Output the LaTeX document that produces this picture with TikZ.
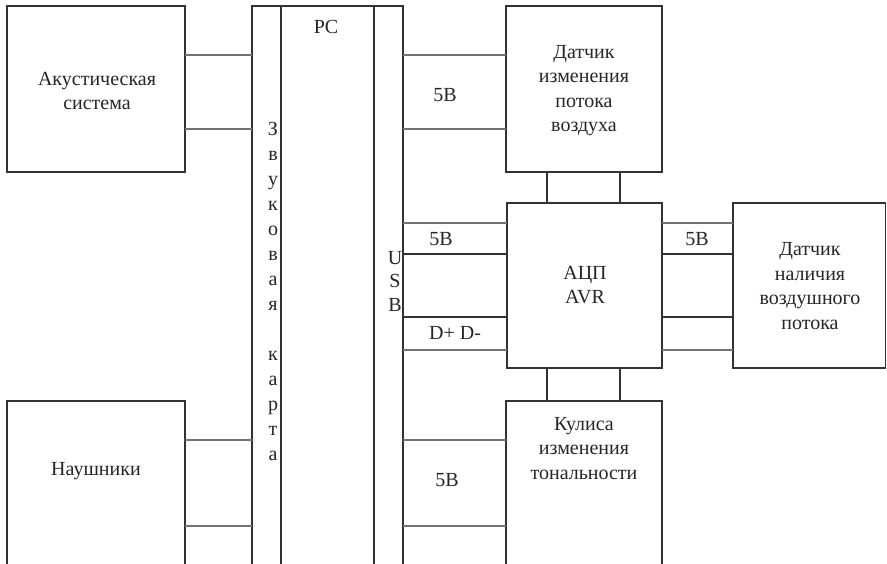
\documentclass[tikz,border=0pt]{standalone}
\usepackage{fontspec}
\setmainfont{Liberation Serif}
\tikzset{
  box/.style={draw=black!80, line width=1.3pt, inner sep=0pt, outer sep=0pt, rectangle},
  wire/.style={draw=black!55, line width=2.2pt},
  thin wire/.style={draw=black!80, line width=1.3pt},
  txt/.style={inner sep=0pt, font=\fontsize{20}{24.5}\selectfont, align=center, text=black!85},
}
\begin{document}
\begin{tikzpicture}[x=1pt,y=-1pt]
\useasboundingbox (0,0) rectangle (887,564);
\clip (0,0) rectangle (887,564);
\fill[white] (0,0) rectangle (887,564);
% boxes
\node[box, minimum width=178pt, minimum height=166pt] (ac) at (96,89) {};
\node[box, minimum width=178pt, minimum height=220pt] (hp) at (96,511) {};
\node[box, minimum width=29pt, minimum height=610pt] (sc) at (266.5,311) {};
\node[box, minimum width=93pt, minimum height=610pt] (pc) at (327.5,311) {};
\node[box, minimum width=29pt, minimum height=610pt] (usb) at (388.5,311) {};
\node[box, minimum width=156pt, minimum height=166pt] (dif) at (584,89) {};
\node[box, minimum width=155pt, minimum height=165pt] (avr) at (584.5,285.5) {};
\node[box, minimum width=156pt, minimum height=220pt] (kul) at (584,511) {};
\node[box, minimum width=152.5pt, minimum height=165pt] (dn) at (809.25,285.5) {};
% texts
\node[txt] (tac) at (97,91) {Акустическая\\система};
\node[txt] (thp) at (96,471) {Наушники};
\node[txt] (tpc) at (326,27) {PC};
\node[txt] (tdif) at (584,90.5) {Датчик\\изменения\\потока\\воздуха};
\node[txt] (tavr) at (585,285) {АЦП\\AVR};
\node[txt] (tdn) at (810,286) {Датчик\\наличия\\воздушного\\потока};
\node[txt, anchor=north] (tkul) at (584,417) {Кулиса\\изменения\\тональности};
\node[txt, font=\fontsize{20}{25}\selectfont, anchor=north] (tsc) at (273,122)
  {З\\в\\у\\к\\о\\в\\а\\я\\ \\к\\а\\р\\т\\а};
\node[txt, font=\fontsize{20}{23.5}\selectfont] (tusb) at (395,281) {U\\S\\B};
\node[txt] (v1) at (445,95) {5В};
\node[txt] (v2) at (441,239) {5В};
\node[txt] (v3) at (697,239) {5В};
\node[txt] (v4) at (447,480) {5В};
\node[txt] (dd) at (455,333) {D+ D-};
% connectors
\draw[wire] (ac.east |- 0,55) -- (sc.west |- 0,55);
\draw[wire] (ac.east |- 0,129) -- (sc.west |- 0,129);
\draw[wire] (hp.east |- 0,440) -- (sc.west |- 0,440);
\draw[wire] (hp.east |- 0,526) -- (sc.west |- 0,526);
\draw[wire] (usb.east |- 0,55) -- (dif.west |- 0,55);
\draw[wire] (usb.east |- 0,129) -- (dif.west |- 0,129);
\draw[wire] (usb.east |- 0,223) -- (avr.west |- 0,223);
\draw[thin wire] (usb.east |- 0,254) -- (avr.west |- 0,254);
\draw[thin wire] (usb.east |- 0,317) -- (avr.west |- 0,317);
\draw[wire] (usb.east |- 0,350) -- (avr.west |- 0,350);
\draw[wire] (avr.east |- 0,223) -- (dn.west |- 0,223);
\draw[thin wire] (avr.east |- 0,254) -- (dn.west |- 0,254);
\draw[thin wire] (avr.east |- 0,317) -- (dn.west |- 0,317);
\draw[wire] (avr.east |- 0,350) -- (dn.west |- 0,350);
\draw[wire] (usb.east |- 0,440) -- (kul.west |- 0,440);
\draw[wire] (usb.east |- 0,526) -- (kul.west |- 0,526);
\draw[thin wire] (dif.south -| 547,0) -- (avr.north -| 547,0);
\draw[thin wire] (dif.south -| 620,0) -- (avr.north -| 620,0);
\draw[thin wire] (avr.south -| 547,0) -- (kul.north -| 547,0);
\draw[thin wire] (avr.south -| 620,0) -- (kul.north -| 620,0);
\end{tikzpicture}
\end{document}
